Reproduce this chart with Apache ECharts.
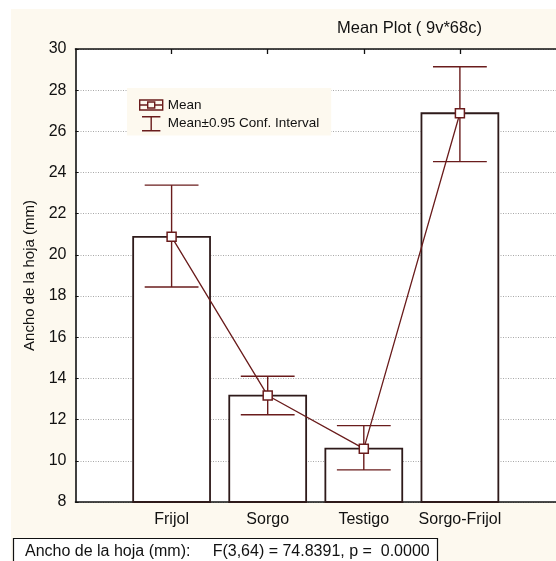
<!DOCTYPE html>
<html>
<head>
<meta charset="utf-8">
<script src="https://cdn.jsdelivr.net/npm/echarts@6/dist/echarts.min.js"></script>
<style>
html,body{margin:0;padding:0;background:#fff;}
#chart{width:556px;height:561px;}
</style>
</head>
<body>
<div id="chart"></div>
<script>
// ---- data ----
const categories = ['Frijol', 'Sorgo', 'Testigo', 'Sorgo-Frijol'];
const means      = [20.88, 13.17, 10.59, 26.88];
const ciLower    = [18.44, 12.24, 9.56, 24.53];
const ciUpper    = [23.39, 14.11, 11.71, 29.14];
const yMin = 8, yMax = 30, yStep = 2;
const titleText = 'Mean Plot ( 9v*68c)';
const statText = 'Ancho de la hoja (mm):     F(3,64) = 74.8391, p =  0.0000';
const yName = 'Ancho de la hoja (mm)';
const legendMean = 'Mean';
const legendCI = 'Mean±0.95 Conf. Interval';

const FONT = '"Liberation Sans", Arial, sans-serif';
const DARK = '#6a1c1c';
const BAR_EDGE = '#2e1a1a';

const barData = categories.map((c, i) => [i + 1, means[i]]);
const ciData = categories.map((c, i) => [i + 1, ciLower[i], ciUpper[i]]);
const meanData = categories.map((c, i) => [i + 1, means[i]]);

const chart = echarts.init(document.getElementById('chart'), null, {renderer: 'canvas'});

const option = {
  animation: false,
  backgroundColor: '#ffffff',
  textStyle: {fontFamily: FONT},
  graphic: [{
    type: 'rect', z: -100, silent: true,
    shape: {x: 11, y: 9, width: 560, height: 560},
    style: {fill: '#fdf9ef'}
  }],
  title: [
    {
      text: titleText, left: 337, top: 20, padding: 0,
      textStyle: {fontFamily: FONT, fontSize: 16.5, fontWeight: 'normal', color: '#111'}
    },
    {
      text: statText, left: 13, top: 538,
      padding: [6, 8, 8, 12],
      backgroundColor: '#ffffff', borderColor: '#111', borderWidth: 1.2,
      textStyle: {fontFamily: FONT, fontSize: 16, fontWeight: 'normal', color: '#111'}
    }
  ],
  legend: {
    orient: 'vertical', left: 127, top: 88,
    padding: [10, 12, 4, 12], itemGap: 4,
    itemWidth: 23, itemHeight: 14,
    backgroundColor: '#fdf9ef',
    selectedMode: false,
    textStyle: {fontFamily: FONT, fontSize: 13.5, color: '#111'},
    data: [
      {name: legendMean, icon: 'path://M0,0H23V10H0ZM8,2H15V8H8ZM0,5H8M15,5H23',
       itemStyle: {color: 'rgba(0,0,0,0)', borderColor: DARK, borderWidth: 1.4}},
      {name: legendCI, icon: 'path://M0,0H21M10.5,0V16M0,16H21',
       itemStyle: {color: 'rgba(0,0,0,0)', borderColor: DARK, borderWidth: 1.4}}
    ]
  },
  grid: {
    left: 75.5, top: 49, right: -6, bottom: 59,
    show: true, backgroundColor: '#ffffff', borderWidth: 0
  },
  xAxis: [
    {
      type: 'value', position: 'bottom', min: 0, max: 5, interval: 1,
      axisLine: {show: true, lineStyle: {color: '#111', width: 1.6}},
      axisTick: {show: true, inside: true, length: 5, customValues: [1, 2, 3, 4], lineStyle: {color: '#111', width: 1.3}},
      axisLabel: {
        show: true, margin: 10, customValues: [1, 2, 3, 4],
        fontFamily: FONT, fontSize: 16, color: '#111',
        formatter: v => (v >= 1 && v <= categories.length) ? categories[v - 1] : ''
      },
      splitLine: {show: false}
    },
    {
      type: 'value', position: 'top', min: 0, max: 5, interval: 1,
      axisLine: {show: true, onZero: false, lineStyle: {color: '#111', width: 1.6}},
      axisTick: {show: true, inside: true, length: 5, customValues: [1, 2, 3, 4], lineStyle: {color: '#111', width: 1.3}},
      axisLabel: {show: false},
      splitLine: {show: false}
    }
  ],
  yAxis: {
    type: 'value', min: yMin, max: yMax, interval: yStep,
    name: yName, nameLocation: 'middle', nameGap: 34,
    nameTextStyle: {fontFamily: FONT, fontSize: 15, color: '#111'},
    axisLine: {show: true, lineStyle: {color: '#111', width: 1.6}},
    axisTick: {show: true, inside: true, length: 3, lineStyle: {color: '#111'}},
    axisLabel: {margin: 9, fontFamily: FONT, fontSize: 16, color: '#111'},
    splitLine: {show: true, lineStyle: {color: '#a8a8a8', width: 1, type: [1, 1.5]}}
  },
  series: [
    {
      name: 'bars', type: 'custom', z: 2, silent: true,
      xAxisIndex: 0,
      data: barData,
      renderItem: function (params, api) {
        const x = api.value(0), m = api.value(1);
        const p1 = api.coord([x - 0.4, m]);
        const p2 = api.coord([x + 0.4, yMin]);
        return {
          type: 'rect',
          shape: {x: p1[0], y: p1[1], width: p2[0] - p1[0], height: p2[1] - p1[1]},
          style: {fill: '#ffffff', stroke: BAR_EDGE, lineWidth: 1.8}
        };
      }
    },
    {
      name: legendCI, type: 'custom', z: 3, silent: true,
      xAxisIndex: 0,
      itemStyle: {color: DARK},
      data: ciData,
      renderItem: function (params, api) {
        const x = api.value(0);
        const lo = api.coord([x, api.value(1)]);
        const hi = api.coord([x, api.value(2)]);
        const capL = api.coord([x - 0.28, api.value(1)]);
        const capR = api.coord([x + 0.28, api.value(1)]);
        const half = (capR[0] - capL[0]) / 2;
        const st = {stroke: DARK, lineWidth: 1.4, fill: null};
        return {
          type: 'group',
          children: [
            {type: 'line', shape: {x1: lo[0], y1: lo[1], x2: hi[0], y2: hi[1]}, style: st},
            {type: 'line', shape: {x1: lo[0] - half, y1: lo[1], x2: lo[0] + half, y2: lo[1]}, style: st},
            {type: 'line', shape: {x1: hi[0] - half, y1: hi[1], x2: hi[0] + half, y2: hi[1]}, style: st}
          ]
        };
      }
    },
    {
      name: legendMean, type: 'line', z: 4, silent: true,
      xAxisIndex: 0,
      data: meanData,
      symbol: 'rect', symbolSize: 9,
      lineStyle: {color: DARK, width: 1.3},
      itemStyle: {color: '#ffffff', borderColor: DARK, borderWidth: 1.5}
    }
  ]
};

chart.setOption(option);
</script>
</body>
</html>
